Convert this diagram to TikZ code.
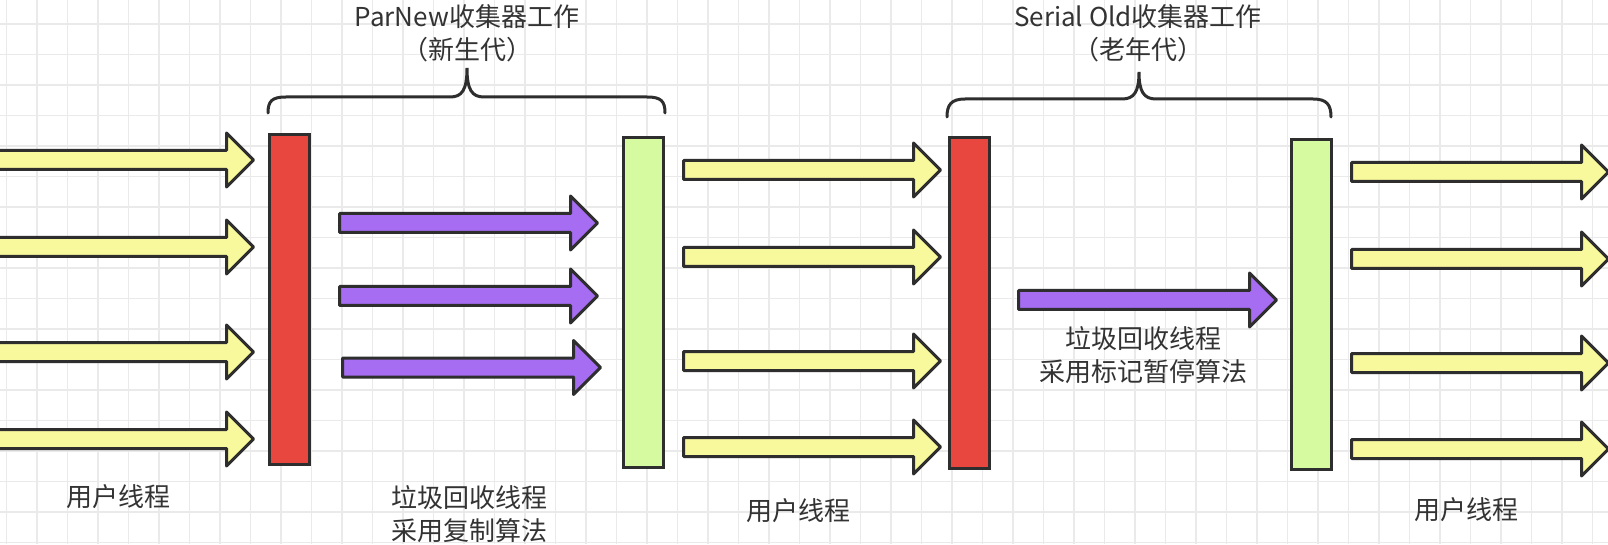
\documentclass[tikz,border=0pt]{standalone}
\usepackage{fontspec}
\setmainfont{Noto Sans CJK SC}
\usepackage{tikz}
\usetikzlibrary{shapes.arrows, positioning}
\definecolor{threadyellow}{HTML}{F8F89C}
\definecolor{gcpurple}{HTML}{A66CF2}
\definecolor{stopred}{HTML}{E8473F}
\definecolor{resumegreen}{HTML}{D6FA9F}
\definecolor{outline}{HTML}{2E2E2E}
\definecolor{gridgray}{HTML}{EAEAEA}
\definecolor{textgray}{HTML}{333333}
\tikzset {
    bar/.style = {
        draw=outline,
        shape = rectangle,
        line width=3pt,
        inner sep=0pt,
        minimum width=40pt,
        minimum height=330pt
    },
    stop bar/.style = {
        bar,
        fill=stopred
    },
    resume bar/.style = {
        bar,
        fill=resumegreen
    },
    thread/.style args = {#1}{
        draw=outline,
        single arrow,
        line width=3pt,
        line join=round,
        inner xsep=0pt,
        inner ysep=8pt,
        single arrow head extend=17.5pt,
        minimum height=#1,
        anchor=tail
    },
    user thread/.style args = {#1}{
        thread={#1},
        fill=threadyellow
    },
    gc thread/.style args = {#1}{
        thread={#1},
        fill=gcpurple
    },
    label/.style = {
        text=textgray,
        inner sep=0pt,
        align=center,
        font=\fontsize{26}{33}\selectfont
    },
    brace line/.style = {
        draw=outline,
        line width=3pt,
        line cap=round
    },
    grid line/.style = {
        draw=gridgray,
        line width=1.5pt
    }
}
\begin{document}
\begin{tikzpicture}[x=1pt, y=1pt]
        \clip (0, 0) rectangle (1608, 544);
        \fill[white] (0, 0) rectangle (1608, 544);
        % Background grid
        \foreach \i in {0,...,52}
            \path[grid line] ({6.5+30.5*\i}, 0) -- ++(0, 544);
        \foreach \i in {0,...,17}
            \path[grid line] (0, {520-30.5*\i}) -- ++(1608, 0);

        % Bars : stop the world (red), resume (green)
        \node [stop bar]   at (289.5, 244.5)   (stop1)     {};
        \node [resume bar] at (643, 241.5)     (resume1)   {};
        \node [stop bar]   at (969.5, 241)     (stop2)     {};
        \node [resume bar] at (1311, 239.5)    (resume2)   {};

        % First group : user threads up to the first stop
        \node [user thread=282pt] at (-30, 384)    (user11)    {};
        \node [user thread=282pt] at (-30, 297)    (user12)    {};
        \node [user thread=282pt] at (-30, 192)    (user13)    {};
        \node [user thread=282pt] at (-30, 105)    (user14)    {};

        % ParNew : three gc threads
        \node [gc thread=258pt] at (338, 321)      (gc11)      {};
        \node [gc thread=258pt] at (338, 248)      (gc12)      {};
        \node [gc thread=258pt] at (341, 176.5)    (gc13)      {};

        % Second group : user threads between the collectors
        \node [user thread=257pt] at (682, 374)    (user21)    {};
        \node [user thread=257pt] at (682, 287)    (user22)    {};
        \node [user thread=257pt] at (682, 183)    (user23)    {};
        \node [user thread=257pt] at (682, 97)     (user24)    {};

        % Serial Old : one gc thread
        \node [gc thread=258pt] at (1017, 244)     (gc21)      {};

        % Third group : user threads after the second resume
        \node [user thread=257pt] at (1350, 372)   (user31)    {};
        \node [user thread=257pt] at (1350, 285)   (user32)    {};
        \node [user thread=257pt] at (1350, 181)   (user33)    {};
        \node [user thread=257pt] at (1350, 95)    (user34)    {};

        % Braces over the collectors
        \path[brace line] (268, 431) .. controls (268, 443) and (272, 447) .. (286, 447)
            -- (450, 447) .. controls (462, 447) and (467, 454) .. (467, 476)
            .. controls (467, 454) and (472, 447) .. (484, 447)
            -- (647, 447) .. controls (661, 447) and (665, 443) .. (665, 431);
        \path[brace line] (947, 427) .. controls (947, 439) and (951, 445) .. (965, 445)
            -- (1122, 445) .. controls (1134, 445) and (1139, 452) .. (1139, 472)
            .. controls (1139, 452) and (1144, 445) .. (1156, 445)
            -- (1313, 445) .. controls (1327, 445) and (1331, 439) .. (1331, 427);

        % Labels
        \node [label] at (467, 511)    (title1)    {ParNew收集器工作\\（新生代）};
        \node [label] at (1138, 511)   (title2)    {Serial Old收集器工作\\（老年代）};
        \node [label] at (118, 47)     (label1)    {用户线程};
        \node [label] at (469, 30)     (label2)    {垃圾回收线程\\采用复制算法};
        \node [label] at (798, 33)     (label3)    {用户线程};
        \node [label] at (1143, 189)   (label4)    {垃圾回收线程\\采用标记暂停算法};
        \node [label] at (1466, 34)    (label5)    {用户线程};
    \end{tikzpicture}
\end{document}
